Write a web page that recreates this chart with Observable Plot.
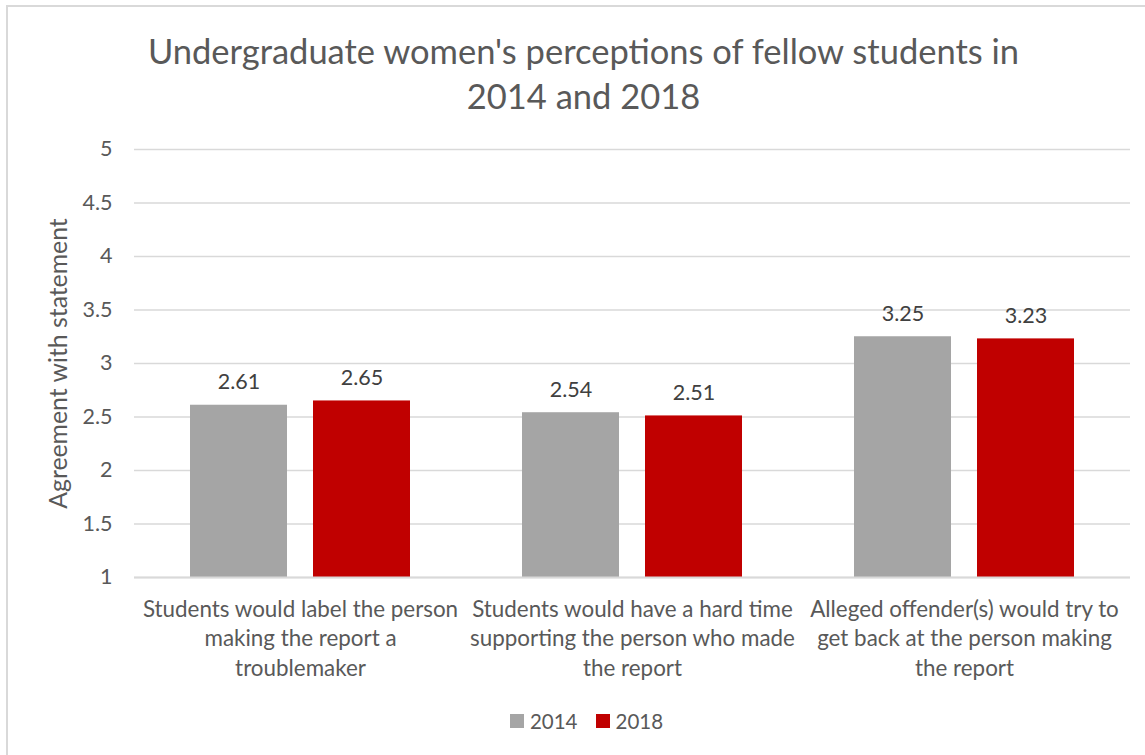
<!DOCTYPE html>
<html>
<head>
<meta charset="utf-8">
<script src="https://cdn.jsdelivr.net/npm/d3@7"></script>
<script src="https://cdn.jsdelivr.net/npm/@observablehq/plot@0.6"></script>
<style>
  html, body { margin: 0; padding: 0; background: #fff; }
  #wrap { position: relative; width: 1145px; height: 755px; overflow: hidden; font-family: Lato, "Open Sans", sans-serif; }
  #border { position: absolute; left: 6px; top: 5px; width: 1200px; height: 800px; border-left: 2px solid #d9d9d9; border-top: 2px solid #d9d9d9; box-sizing: border-box; }
  #title { position: absolute; left: 0; width: 1145px; box-sizing: border-box; padding-left: 22px; top: 28px; text-align: center; font-size: 34.5px; line-height: 45px; color: #595959; }
  #chart { position: absolute; left: 0; top: 130px; }
  #legend { position: absolute; left: 0; width: 1145px; box-sizing: border-box; padding-left: 28px; top: 709px; display: flex; justify-content: center; align-items: center; font-size: 20.5px; color: #595959; }
  .key { display: flex; align-items: center; margin: 0 9px; }
  .sw { width: 14px; height: 14px; margin-right: 6px; }
</style>
</head>
<body>
<div id="wrap">
  <div id="border"></div>
  <div id="title">Undergraduate women's perceptions of fellow students in<br>2014 and 2018</div>
  <div id="chart"></div>
  <div id="legend"></div>
</div>
<script>
const categories = [
  "Students would label the person making the report a troublemaker",
  "Students would have a hard time supporting the person who made the report",
  "Alleged offender(s) would try to get back at the person making the report"
];
const categoryTickLabels = [
  "Students would label the person\nmaking the report a\ntroublemaker",
  "Students would have a hard time\nsupporting the person who made\nthe report",
  "Alleged offender(s) would try to\nget back at the person making\nthe report"
];
const years = ["2014", "2018"];
const values2014 = [2.61, 2.54, 3.25];
const values2018 = [2.65, 2.51, 3.23];
const yTicks = [1, 1.5, 2, 2.5, 3, 3.5, 4, 4.5, 5];
const yAxisLabel = "Agreement with statement";
const colors = ["#a5a5a5", "#c00000"];

const data = [];
categories.forEach((c, i) => {
  data.push({category: c, year: years[0], value: values2014[i]});
  data.push({category: c, year: years[1], value: values2018[i]});
});

const chart = Plot.plot({
  width: 1145,
  height: 557,
  marginLeft: 133,
  marginRight: 15,
  marginTop: 19,
  marginBottom: 110,
  style: {fontFamily: "Lato, 'Open Sans', sans-serif", color: "#595959", background: "transparent"},
  fx: {domain: categories, padding: 0, label: null},
  x: {domain: years, paddingInner: 0.21, paddingOuter: 0.444, axis: null},
  y: {domain: [1, 5], label: null},
  color: {domain: years, range: colors},
  marks: [
    Plot.gridY(yTicks, {stroke: "#d9d9d9", strokeOpacity: 1, strokeWidth: 1.5}),
    Plot.barY(data, {fx: "category", x: "year", y1: 1, y2: "value", fill: "year"}),
    Plot.ruleY([1], {stroke: "#d9d9d9", strokeWidth: 2}),
    Plot.text(data, {fx: "category", x: "year", y: "value", text: d => d.value.toFixed(2), lineAnchor: "bottom", dy: -16, fontSize: 21.5, fill: "#404040"}),
    Plot.axisY(yTicks, {tickSize: 0, tickPadding: 22, fontSize: 21.5, fill: "#595959", tickFormat: d => String(d), label: yAxisLabel, labelAnchor: "center", labelOffset: 85, labelArrow: "none"}),
    Plot.axisFx({anchor: "bottom", tickSize: 0, tickPadding: 18, fontSize: 22.4, lineHeight: 1.32, fill: "#595959", label: null,
      tickFormat: d => categoryTickLabels[categories.indexOf(d)]})
  ]
});
document.getElementById("chart").appendChild(chart);
// enlarge the y-axis title to match the reference
chart.querySelectorAll("text").forEach(t => {
  if (t.textContent === yAxisLabel) { t.setAttribute("font-size", "24.8px"); t.style.fontSize = "24.8px"; }
});

const legend = document.getElementById("legend");
years.forEach((y, i) => {
  const k = document.createElement("div");
  k.className = "key";
  k.innerHTML = `<div class="sw" style="background:${colors[i]}"></div><span>${y}</span>`;
  legend.appendChild(k);
});
</script>
</body>
</html>
